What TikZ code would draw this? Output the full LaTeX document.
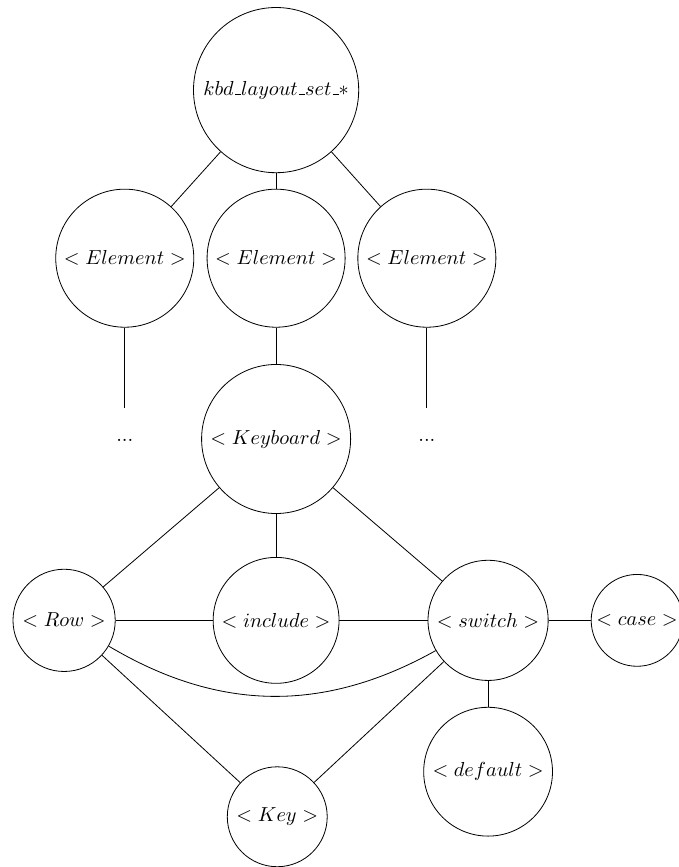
\documentclass[tikz,border=0pt]{standalone}
\usepackage{tikz}
\usetikzlibrary{calc}
\def\usc{\kern.06em\vbox{\hrule width.3em}}

\tikzset{
	bubble/.style={draw, circle, inner sep=0pt, line width=0.4pt},
	gap/.style={inner sep=0pt, minimum height=1.11cm}
}

\begin{document}
\begin{tikzpicture}
		%%%%% START %%%%%
		
		\useasboundingbox (0, 0) rectangle (11.74, -15.01);
		
		\node[bubble, minimum size=2.86cm] (set) at (4.78, -1.56) {$kbd\usc layout\usc set\usc *$};
		
		\node[bubble, minimum size=2.39cm] (elemA) at (2.16, -4.47) {$<Element>$};
		\node[bubble, minimum size=2.39cm] (elemB) at (4.78, -4.47) {$<Element>$};
		\node[bubble, minimum size=2.39cm] (elemC) at (7.39, -4.47) {$<Element>$};
		
		\node[gap] (moreA) at (2.16, -7.62) {...};
		\node[gap] (moreC) at (7.39, -7.62) {...};
		
		\node[bubble, minimum size=2.58cm] (kbd) at (4.78, -7.60) {$<Keyboard>$};
		
		\node[bubble, minimum size=1.77cm] (row) at (1.11, -10.74) {$<Row>$};
		\node[bubble, minimum size=2.18cm] (incl) at (4.78, -10.74) {$<include>$};
		\node[bubble, minimum size=2.08cm] (sw) at (8.45, -10.74) {$<switch>$};
		\node[bubble, minimum size=1.59cm] (case) at (11.03, -10.74) {$<case>$};
		\node[bubble, minimum size=2.23cm] (dflt) at (8.45, -13.36) {$<default>$};
		\node[bubble, minimum size=1.73cm] (key) at (4.80, -14.14) {$<Key>$};
		
		\draw (set) -- (elemA);
		\draw (set) -- (elemB);
		\draw (set) -- (elemC);
		
		\draw (elemA) -- (moreA);
		\draw (elemC) -- (moreC);
		\draw (elemB) -- (kbd);
		
		\draw (kbd) -- (row);
		\draw (kbd) -- (incl);
		\draw (kbd) -- (sw);
		
		\draw (row) -- (incl);
		\draw (incl) -- (sw);
		\draw (sw) -- (case);
		\draw (sw) -- (dflt);
		\draw (row) to[bend right=30] (sw);
		
		\draw (row) -- (key);
		\draw (sw) -- (key);
		
		%%%%% END %%%%%
	\end{tikzpicture}
\end{document}
